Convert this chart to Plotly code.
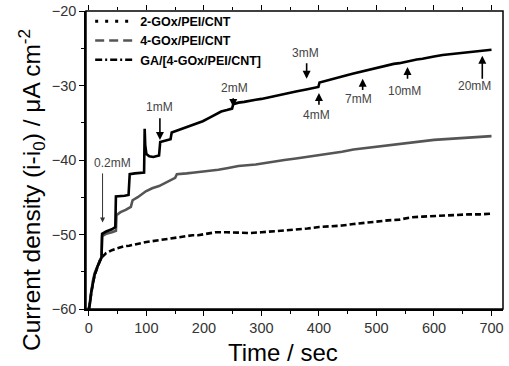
import plotly.graph_objects as go

# ---------------- data ----------------
t_2gox = [0, 2, 4, 7, 10, 15, 19, 22, 26, 30, 40, 50, 60, 70, 80, 90, 100, 110, 120, 130,
          140, 150, 160, 170, 180, 190, 200, 210, 220, 240, 260, 280, 300, 320, 340, 360,
          380, 400, 420, 440, 460, 480, 500, 520, 540, 560, 580, 600, 620, 640, 660, 680, 700]
j_2gox = [-60.0, -59.0, -57.6, -56.5, -55.5, -54.3, -53.5, -53.1, -52.8, -52.5, -52.1, -51.8,
          -51.6, -51.5, -51.3, -51.2, -51.0, -50.9, -50.8, -50.6, -50.5, -50.4, -50.3, -50.2,
          -50.1, -50.1, -50.0, -49.8, -49.7, -49.7, -49.8, -49.8, -49.7, -49.6, -49.5, -49.4,
          -49.2, -49.0, -48.9, -48.8, -48.6, -48.4, -48.3, -48.1, -48.0, -47.7, -47.6, -47.5,
          -47.4, -47.4, -47.3, -47.3, -47.2]

t_4gox = [0, 2, 4, 7, 10, 15, 19, 22, 23, 30, 40, 47, 48, 55, 64, 73, 76, 85, 99, 110, 122,
          135, 150, 153, 160, 170, 180, 195, 210, 225, 240, 260, 290, 320, 340, 360, 380, 400,
          420, 440, 460, 480, 500, 520, 540, 560, 580, 600, 620, 640, 660, 680, 700]
j_4gox = [-60.0, -58.8, -57.3, -56.2, -55.2, -54.2, -53.4, -53.0, -50.2, -49.9, -49.7, -49.5,
          -47.4, -47.0, -46.7, -46.3, -45.4, -45.0, -44.2, -43.8, -43.5, -43.0, -42.4, -41.9,
          -41.9, -41.8, -41.7, -41.6, -41.5, -41.3, -41.1, -40.8, -40.6, -40.2, -40.0, -39.8,
          -39.6, -39.4, -39.1, -38.9, -38.6, -38.4, -38.2, -38.0, -37.9, -37.7, -37.5, -37.3,
          -37.2, -37.1, -37.0, -36.9, -36.8]

t_ga = [0, 2, 4, 7, 10, 15, 19, 22, 23, 30, 40, 46, 47, 55, 62, 69, 71, 80, 90, 96, 97, 98,
        100, 105, 112, 122, 124, 132, 142, 144, 155, 170, 181, 198, 210, 220, 230, 240, 249,
        251, 260, 270, 280, 290, 300, 320, 340, 360, 380, 399, 401, 410, 420, 430, 440, 450,
        460, 470, 480, 490, 500, 510, 520, 530, 540, 551, 560, 570, 580, 590, 600, 615, 627,
        640, 655, 670, 685, 700]
j_ga = [-60.0, -59.2, -57.8, -56.5, -55.4, -54.3, -53.6, -53.1, -49.9, -49.6, -49.3, -49.0,
        -44.9, -44.9, -44.8, -44.7, -41.9, -41.8, -41.7, -41.7, -35.8, -38.0, -39.2, -39.5,
        -39.6, -39.4, -37.6, -37.4, -37.2, -36.3, -36.0, -35.6, -35.3, -34.8, -34.3, -33.9,
        -33.5, -33.3, -33.1, -32.5, -32.3, -32.2, -32.0, -31.9, -31.8, -31.5, -31.1, -30.8,
        -30.5, -30.2, -29.6, -29.4, -29.2, -29.0, -28.8, -28.6, -28.4, -28.2, -28.0, -27.8,
        -27.6, -27.4, -27.3, -27.1, -27.0, -26.8, -26.7, -26.5, -26.4, -26.3, -26.1, -25.9,
        -25.8, -25.7, -25.5, -25.4, -25.3, -25.2]

series_names = ["2-GOx/PEI/CNT", "4-GOx/PEI/CNT", "GA/[4-GOx/PEI/CNT]"]

# glucose additions: label, arrow time, arrow tip, arrow tail, label position (t, j)
add_labels = ["0.2mM", "1mM", "2mM", "3mM", "4mM", "7mM", "10mM", "20mM"]
add_t      = [23.8, 123.5, 251, 378.6, 400, 476, 554, 684]
tip_j      = [-48.4, -37.3, -32.9, -29.1, -31.0, -29.1, -27.5, -26.0]
tail_j     = [-41.6, -34.2, -31.5, -26.8, -32.8, -30.8, -29.3, -29.3]
lab_t      = [41.7, 122.6, 254, 377.4, 396.5, 469.6, 549.6, 671]
lab_j      = [-40.4, -32.9, -30.3, -25.6, -34.0, -31.85, -30.8, -30.1]

x_ticks = [0, 100, 200, 300, 400, 500, 600, 700]
x_minor = [50, 150, 250, 350, 450, 550, 650]
y_ticks = [-60, -50, -40, -30, -20]
y_minor = [-55, -45, -35, -25]

FONT = "Liberation Sans, Arial, Helvetica, sans-serif"

fig = go.Figure()

# data traces
fig.add_trace(go.Scatter(x=t_2gox, y=j_2gox, mode="lines", showlegend=False,
                         line=dict(color="black", width=2.6, dash="6px,3px")))
fig.add_trace(go.Scatter(x=t_4gox, y=j_4gox, mode="lines", showlegend=False,
                         line=dict(color="#555555", width=2.6)))
fig.add_trace(go.Scatter(x=t_ga, y=j_ga, mode="lines", showlegend=False,
                         line=dict(color="black", width=2.6)))
# dummy trace to carry the top tick axis
fig.add_trace(go.Scatter(x=[None], y=[None], xaxis="x2", showlegend=False, hoverinfo="skip"))

# legend entries
leg_styles = [dict(color="black", width=3, dash="3px,7px"),
              dict(color="#555555", width=2.5, dash="9px,5px"),
              dict(color="black", width=2.5, dash="7px,3px,2px,3px")]
for name, st in zip(series_names, leg_styles):
    fig.add_trace(go.Scatter(x=[None], y=[None], mode="lines", name=name, line=st))

annotations = []
for i, lab in enumerate(add_labels):
    thin = i == 0
    annotations.append(dict(x=add_t[i], y=tip_j[i], ax=add_t[i], ay=tail_j[i],
                            xref="x", yref="y", axref="x", ayref="y", text="",
                            showarrow=True, arrowhead=2, arrowsize=1.0,
                            arrowwidth=1.0 if thin else 1.6,
                            arrowcolor="#333333" if thin else "black"))
    annotations.append(dict(x=lab_t[i], y=lab_j[i], xref="x", yref="y", text=lab,
                            showarrow=False, xanchor="center", yanchor="middle",
                            font=dict(family=FONT, size=12, color="#444444")))

# axis titles (plot area: 417 x 298 px)
annotations.append(dict(x=(283 - 86) / 417, y=-(352 - 309) / 298, xref="paper", yref="paper",
                        text="Time / sec", showarrow=False, xanchor="center", yanchor="middle",
                        font=dict(family=FONT, size=24, color="black")))
annotations.append(dict(x=(31 - 86) / 417, y=(309 - 190) / 298, xref="paper", yref="paper",
                        text="Current density (i-i<sub>0</sub>) / \u03bcA cm<sup>-2</sup>",
                        textangle=-90, showarrow=False, xanchor="center", yanchor="middle",
                        font=dict(family=FONT, size=24.5, color="black")))

fig.update_layout(
    width=509, height=366,
    margin=dict(l=86, r=6, t=11, b=57, autoexpand=False),
    paper_bgcolor="white", plot_bgcolor="white",
    font=dict(family=FONT, color="#333333"),
    annotations=annotations,
    shapes=[dict(type="rect", xref="paper", yref="paper", x0=0, x1=1, y0=0, y1=1,
                 line=dict(color="black", width=1.5), fillcolor="rgba(0,0,0,0)",
                 layer="above")],
    legend=dict(x=0.01, y=1.015, xanchor="left", yanchor="top",
                bgcolor="rgba(0,0,0,0)", borderwidth=0,
                font=dict(family=FONT, size=12.5, color="black", weight="bold"),
                itemwidth=40, tracegroupgap=0),
    xaxis=dict(range=[-5, 720], tickvals=x_ticks, ticks="outside", ticklen=5, tickwidth=1.2,
               tickcolor="black", showline=True, linecolor="black", linewidth=1.5,
               showgrid=False, zeroline=False,
               tickfont=dict(family=FONT, size=14.5, color="#333333"),
               minor=dict(tickvals=x_minor, ticks="outside", ticklen=3, tickwidth=1.2,
                          tickcolor="black", showgrid=False)),
    xaxis2=dict(range=[-5, 720], overlaying="x", side="top", tickvals=x_ticks,
                ticks="outside", ticklen=5, tickwidth=1.2, tickcolor="black",
                showticklabels=False, showline=False, showgrid=False, zeroline=False,
                minor=dict(tickvals=x_minor, ticks="outside", ticklen=3, tickwidth=1.2,
                           tickcolor="black", showgrid=False)),
    yaxis=dict(range=[-60, -20], tickvals=y_ticks, ticks="outside", ticklen=5, tickwidth=1.2,
               tickcolor="black", showline=True, linecolor="black", linewidth=1.5,
               showgrid=False, zeroline=False,
               tickfont=dict(family=FONT, size=14.5, color="#333333"),
               minor=dict(tickvals=y_minor, ticks="outside", ticklen=3, tickwidth=1.2,
                          tickcolor="black", showgrid=False)),
)

fig.write_html("out.html", config={"displayModeBar": False},
               post_script="document.body.style.margin='0';document.body.style.overflow='hidden';")
